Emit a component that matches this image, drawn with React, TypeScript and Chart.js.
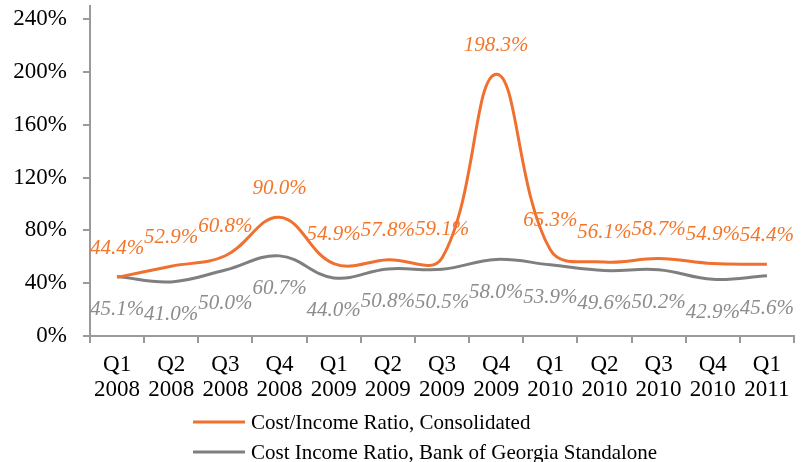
import React, { useEffect, useRef } from "react";
import { Chart, registerables } from "chart.js";

Chart.register(...registerables);

const quarters = [
  ["Q1", "2008"], ["Q2", "2008"], ["Q3", "2008"], ["Q4", "2008"],
  ["Q1", "2009"], ["Q2", "2009"], ["Q3", "2009"], ["Q4", "2009"],
  ["Q1", "2010"], ["Q2", "2010"], ["Q3", "2010"], ["Q4", "2010"],
  ["Q1", "2011"],
];
const consolidated = [44.4, 52.9, 60.8, 90.0, 54.9, 57.8, 59.1, 198.3, 65.3, 56.1, 58.7, 54.9, 54.4];
const standalone = [45.1, 41.0, 50.0, 60.7, 44.0, 50.8, 50.5, 58.0, 53.9, 49.6, 50.2, 42.9, 45.6];
const seriesNames = ["Cost/Income Ratio, Consolidated", "Cost Income Ratio, Bank of Georgia Standalone"];
const yTicks = [0, 40, 80, 120, 160, 200, 240];

const ORANGE = "#F07030";
const ORANGE_TEXT = "#F4762A";
const GRAY = "#7F7F7F";
const GRAY_TEXT = "#8C8C8C";
const AXIS = "#9A9A9A";
const FONT = "'Liberation Serif', 'Times New Roman', serif";

const labelPlugin = {
  id: "pointLabels",
  afterDatasetsDraw(chart: any) {
    const ctx = chart.ctx;
    ctx.save();
    ctx.font = `italic 21px ${FONT}`;
    ctx.textAlign = "center";
    ctx.textBaseline = "middle";
    chart.data.datasets.forEach((ds: any, i: number) => {
      const meta = chart.getDatasetMeta(i);
      ctx.fillStyle = i === 0 ? ORANGE_TEXT : GRAY_TEXT;
      meta.data.forEach((pt: any, j: number) => {
        const off = i === 0 ? -29 : 33;
        ctx.fillText(ds.data[j].toFixed(1) + "%", pt.x, pt.y + off);
      });
    });
    ctx.restore();
  },
};

const legendPlugin = {
  id: "customLegend",
  afterDraw(chart: any) {
    const ctx = chart.ctx;
    ctx.save();
    ctx.font = `21px ${FONT}`;
    ctx.textBaseline = "middle";
    ctx.textAlign = "left";
    const colors = [ORANGE, GRAY];
    seriesNames.forEach((name, i) => {
      const y = 422 + i * 30;
      ctx.strokeStyle = colors[i];
      ctx.lineWidth = 3;
      ctx.beginPath();
      ctx.moveTo(193, y);
      ctx.lineTo(245, y);
      ctx.stroke();
      ctx.fillStyle = "#000";
      ctx.fillText(name, 251, y + 1);
    });
    ctx.restore();
  },
};

export default function App() {
  const ref = useRef<HTMLCanvasElement>(null);
  useEffect(() => {
    document.body.style.margin = "0";
    const chart = new Chart(ref.current!, {
      type: "line",
      data: {
        labels: quarters,
        datasets: [
          {
            label: seriesNames[0],
            data: consolidated,
            borderColor: ORANGE,
            borderWidth: 3,
            pointRadius: 0,
            tension: 0.4,
            fill: false,
          },
          {
            label: seriesNames[1],
            data: standalone,
            borderColor: GRAY,
            borderWidth: 3,
            pointRadius: 0,
            tension: 0.4,
            fill: false,
          },
        ],
      },
      options: {
        animation: false,
        responsive: false,
        maintainAspectRatio: false,
        layout: { padding: { left: 0, right: 15, top: 6, bottom: 54 } },
        plugins: { legend: { display: false }, tooltip: { enabled: false } },
        scales: {
          x: {
            offset: true,
            grid: {
              offset: true,
              drawOnChartArea: false,
              drawTicks: true,
              tickLength: 7,
              color: AXIS,
              lineWidth: 2,
            },
            border: { color: AXIS, width: 2 },
            ticks: {
              color: "#000",
              font: { family: FONT, size: 23, lineHeight: 1.09 },
              padding: 9,
              maxRotation: 0,
              autoSkip: false,
            },
            afterFit: (s: any) => {
              s.height = 72;
              s.paddingLeft = 0;
              s.paddingRight = 0;
            },
          },
          y: {
            min: 0,
            max: 250,
            afterBuildTicks: (s: any) => {
              s.ticks = yTicks.map((v) => ({ value: v }));
            },
            grid: {
              drawOnChartArea: false,
              tickLength: 7,
              color: AXIS,
              lineWidth: 2,
            },
            border: { color: AXIS, width: 2 },
            ticks: {
              color: "#000",
              font: { family: FONT, size: 23 },
              padding: 16,
              callback: (v: any) => v + "%",
            },
            afterFit: (s: any) => {
              s.width = 90;
              s.paddingTop = 0;
              s.paddingBottom = 0;
            },
          },
        },
      },
      plugins: [labelPlugin, legendPlugin],
    });
    return () => chart.destroy();
  }, []);
  return (
    <div style={{ width: 809, height: 462, background: "#fff" }}>
      <canvas ref={ref} width={809} height={462} />
    </div>
  );
}
